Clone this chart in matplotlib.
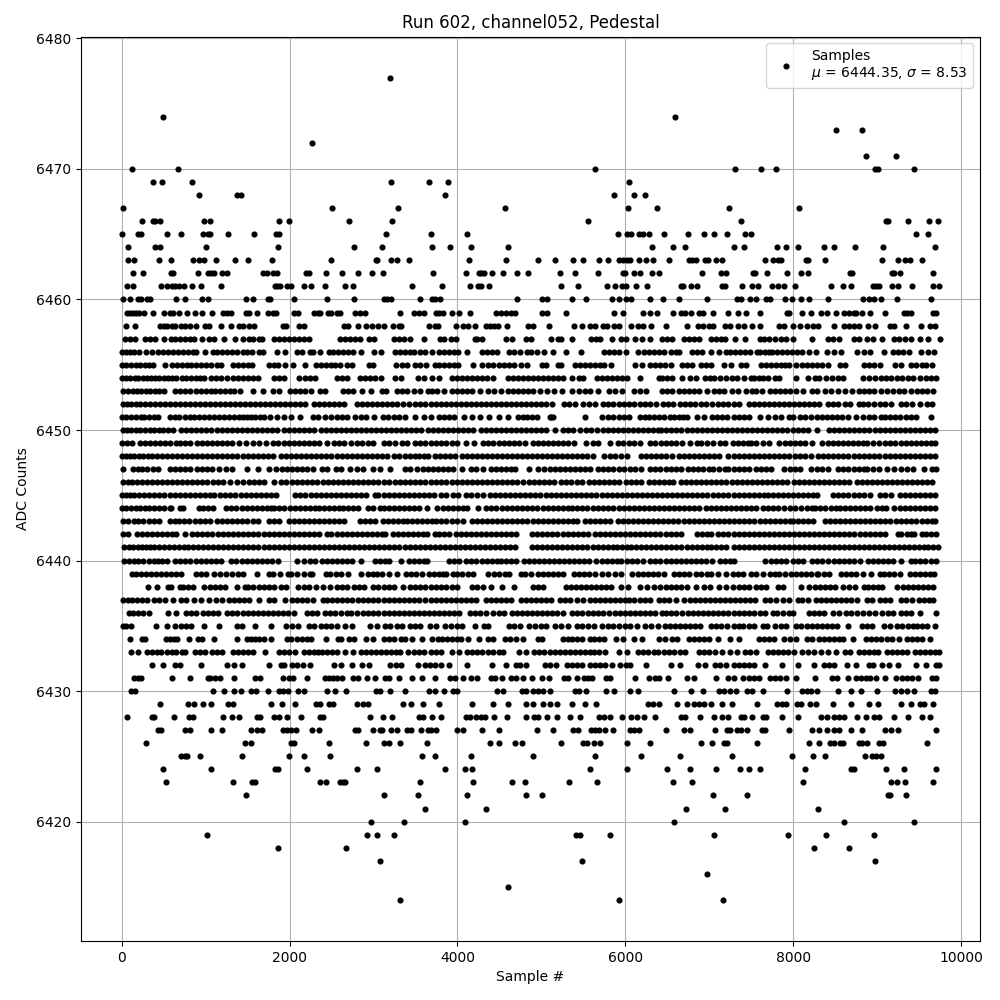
#!/usr/bin/python
# Pedestal samples for one channel, ADC value against sample number.

import matplotlib
matplotlib.use("Agg")
import matplotlib.pyplot as plt

s6477 = [3200]
s6474 = [487, 6595]
s6473 = [8512, 8821]
s6472 = [2270]
s6471 = [8869, 9226]
s6470 = [119, 677, 5643, 7309, 7619, 7797, 8972, 9012, 9440]
s6469 = [368, 475, 843, 3208, 3660, 3885, 6048]
s6468 = [927, 1378, 1420, 3850, 5869, 6107, 6238]
s6467 = [12, 2507, 3290, 4571, 6036, 6381, 7238, 8071]
s6466 = [238, 368, 392, 451, 986, 1057, 1877, 1996, 2709, 3219, 5560, 7381, 9107, 9131, 9369, 9619, 9726]
s6465 = [0, 190, 230, 546, 701, 974, 1033, 1057, 1271, 1580, 1833, 1873, 3148, 3683, 4110, 5917, 6024, 6071, 6167,
         6214, 6286, 6464, 6750, 6940, 7059, 7214, 7428, 7500, 9464, 9607]
s6464 = [71, 392, 451, 1010, 1865, 2768, 3100, 3695, 3908, 4158, 4609, 6321, 6571, 6714, 7297, 7416, 7809, 7917,
         8059, 8369, 8488, 8738, 9071, 9690]
s6463 = [71, 143, 440, 582, 855, 927, 982, 1129, 1354, 1509, 1794, 2495, 3030, 3045, 3208, 3279, 3421, 4134, 4574,
         4964, 5167, 5381, 5500, 5690, 5798, 5929, 5976, 6024, 6060, 6167, 6250, 6333, 6524, 6762, 6798, 6845, 6952,
         6988, 7083, 7155, 7667, 7762, 7821, 7857, 8155, 8179, 8381, 9059, 9250, 9333, 9393, 9536]
s6462 = [131, 249, 582, 606, 915, 1033, 1069, 1105, 1200, 1259, 1687, 1734, 1806, 1845, 2198, 2233, 2435, 2625, 2816,
         2982, 3113, 3706, 4099, 4253, 4277, 4312, 4407, 4538, 4716, 4847, 5226, 5405, 5679, 5976, 6000, 6107, 6179,
         6321, 6405, 6917, 7143, 7202, 7524, 7547, 7690, 7929, 8095, 8179, 8678, 8702, 9178, 9202, 9274, 9666]
s6461 = [59, 131, 463, 546, 594, 641, 689, 748, 832, 950, 1188, 1830, 1853, 1885, 1972, 2012, 2174, 2253, 2424, 2661,
         2756, 3457, 3813, 4146, 4241, 4277, 4372, 5238, 5440, 5786, 5881, 5964, 6008, 6131, 6262, 6667, 6690, 6786,
         6857, 7155, 7190, 7393, 7512, 7583, 7750, 7821, 7893, 8024, 8452, 8595, 8690, 8952, 8988, 9024, 9178, 9250,
         9417, 9666, 9740]
s6460 = [12, 95, 190, 226, 297, 333, 653, 760, 962, 1033, 1485, 1568, 1746, 1770, 2055, 2447, 2768, 3124, 3160, 3208,
         3552, 3695, 3730, 3790, 4716, 5012, 5071, 5369, 5536, 5845, 5929, 6012, 6071, 6298, 6452, 6643, 6976, 7333,
         7381, 7488, 7560, 7679, 7726, 7905, 7988, 8095, 8190, 8416, 8833, 8905, 8964, 9047, 9238, 9643]
s6459 = [59, 95, 131, 166, 202, 261, 368, 499, 570, 606, 689, 784, 879, 962, 1081, 1212, 1259, 1307, 1485, 1521, 1616,
         1746, 1806, 1841, 2055, 2103, 2293, 2340, 2364, 2459, 2495, 2566, 2602, 2780, 2839, 2899, 3315, 3481, 3540,
         3600, 3742, 3778, 3825, 3932, 4015, 4146, 4455, 4514, 4574, 4633, 4681, 5012, 5071, 5298, 5869, 5976, 6214,
         6298, 6381, 6571, 6667, 6714, 6786, 6881, 6929, 7048, 7226, 7345, 7440, 7607, 7929, 7952, 8107, 8214, 8333,
         8405, 8512, 8607, 8667, 8726, 8750, 8821, 8917, 9095, 9321, 9357, 9405, 9666, 9702]
s6458 = [48, 154, 451, 499, 546, 594, 641, 701, 760, 820, 891, 998, 1045, 1188, 1307, 1402, 1449, 1521, 1580, 1925,
         1960, 2115, 2174, 2649, 2697, 2816, 2911, 2982, 3053, 3124, 3231, 3303, 3326, 3659, 3730, 3766, 3980, 4063,
         4122, 4206, 4336, 4384, 4431, 4479, 4597, 4847, 4905, 5095, 5393, 5488, 5583, 5643, 5738, 5786, 5869, 5929,
         6071, 6155, 6214, 6310, 6488, 6738, 6869, 6929, 7000, 7048, 7190, 7250, 7345, 7416, 7512, 7607, 7833, 7893,
         8000, 8083, 8167, 8238, 8298, 8488, 8607, 8667, 8726, 8786, 8893, 8976, 9155, 9202, 9345, 9524, 9631, 9690]
s6457 = [36, 95, 155, 274, 333, 393, 500, 584, 640, 700, 760, 820, 858, 953, 1036, 1095, 1215, 1346, 1441, 1513, 1570,
         1640, 1671, 1810, 1870, 1930, 1990, 2050, 2110, 2170, 2227, 2604, 2660, 2720, 2780, 2842, 2942, 3006, 3240,
         3300, 3360, 3440, 3606, 3790, 3845, 3925, 3980, 4215, 4230, 4290, 4580, 4655, 4815, 4875, 5120, 5200, 5240,
         5370, 5590, 5650, 5705, 5840, 5950, 6010, 6120, 6200, 6300, 6440, 6500, 6560, 6700, 6760, 6820, 6880, 7020,
         7080, 7140, 7190, 7310, 7430, 7600, 7650, 7710, 7790, 7850, 7920, 8000, 8230, 8410, 8470, 8550, 8720, 8790,
         8880, 8950, 9060, 9200, 9260, 9330, 9400, 9510, 9610, 9750]
s6456 = [0, 50, 100, 150, 210, 285, 357, 430, 490, 550, 610, 670, 730, 790, 850, 885, 989, 1085, 1140, 1200, 1260,
         1320, 1380, 1440, 1493, 1552, 1632, 1683, 1850, 1950, 2088, 2150, 2247, 2279, 2366, 2465, 2520, 2580, 2640,
         2700, 2760, 2850, 3006, 3086, 3257, 3320, 3380, 3440, 3483, 3560, 3620, 3694, 3781, 3840, 3900, 3960, 4008,
         4119, 4298, 4358, 4417, 4477, 4616, 4680, 4750, 4835, 4875, 4950, 5034, 5141, 5296, 5475, 5750, 5810, 5870,
         5928, 6012, 6147, 6227, 6285, 6345, 6405, 6465, 6540, 6600, 6636, 6795, 6850, 6915, 7026, 7113, 7200, 7252,
         7310, 7370, 7430, 7490, 7570, 7610, 7660, 7710, 7750, 7810, 7870, 7930, 7990, 8050, 8110, 8187, 8278, 8405,
         8485, 8568, 8763, 8850, 8922, 9081, 9189, 9250, 9310, 9380, 9519, 9610, 9678]
s6455 = [0, 55, 110, 165, 220, 280, 330, 375, 520, 600, 655, 715, 775, 830, 890, 950, 1010, 1070, 1130, 1180, 1330,
         1385, 1440, 1500, 1550, 1750, 1810, 1860, 1950, 2040, 2180, 2310, 2370, 2430, 2490, 2540, 2600, 2690, 2750,
         2950, 3000, 3270, 3340, 3400, 3490, 3560, 3630, 3730, 3780, 3840, 3900, 3960, 4010, 4185, 4290, 4370, 4430,
         4490, 4550, 4620, 4670, 4760, 4830, 5010, 5060, 5200, 5240, 5400, 5460, 5520, 5580, 5640, 5700, 5750, 5830,
         6120, 6200, 6290, 6350, 6410, 6470, 6540, 6680, 6740, 6800, 6900, 6960, 7020, 7180, 7260, 7380, 7440, 7620,
         7680, 7740, 7800, 7860, 7900, 7950, 8030, 8110, 8170, 8230, 8290, 8350, 8420, 8560, 8620, 8840, 8900, 8960,
         9030, 9210, 9290, 9410, 9470, 9530, 9580, 9650]
s6454 = [0, 50, 100, 160, 200, 250, 300, 350, 400, 450, 500, 550, 600, 650, 720, 770, 830, 880, 930, 980, 1060, 1120,
         1180, 1260, 1330, 1390, 1450, 1510, 1570, 1630, 1810, 1870, 1930, 2110, 2180, 2240, 2300, 2560, 2620, 2680,
         2840, 2900, 2960, 3020, 3090, 3260, 3330, 3530, 3600, 3700, 3780, 3930, 3990, 4050, 4110, 4170, 4230, 4290,
         4350, 4420, 4600, 4660, 4720, 4780, 4840, 4900, 4960, 5020, 5080, 5140, 5200, 5260, 5370, 5450, 5500, 5660,
         5720, 5780, 5840, 5900, 5960, 6020, 6180, 6400, 6440, 6500, 6560, 6680, 6770, 6840, 6950, 7010, 7060, 7130,
         7200, 7270, 7330, 7420, 7500, 7540, 7590, 7640, 7700, 7790, 7830, 8040, 8180, 8260, 8310, 8390, 8460, 8530,
         8590, 8830, 8900, 8980, 9050, 9110, 9170, 9240, 9300, 9370, 9430, 9510, 9580, 9640, 9700]
s6453 = [15, 75, 130, 180, 230, 290, 340, 400, 450, 500, 640, 700, 760, 820, 880, 940, 1000, 1060, 1110, 1170, 1230,
         1290, 1340, 1410, 1570, 1680, 1800, 1880, 2000, 2060, 2120, 2180, 2260, 2360, 2420, 2640, 2700, 2760, 2860,
         2970, 3100, 3150, 3280, 3340, 3400, 3480, 3560, 3650, 3700, 3760, 3840, 3930, 4000, 4060, 4120, 4180, 4270,
         4360, 4440, 4520, 4600, 4660, 4720, 4780, 4840, 4900, 4990, 5070, 5150, 5250, 5360, 5450, 5520, 5580, 5670,
         5810, 5880, 5960, 6110, 6180, 6250, 6440, 6500, 6560, 6640, 6700, 6760, 6820, 6880, 6970, 7060, 7120, 7180,
         7270, 7340, 7440, 7510, 7560, 7630, 7720, 7780, 7840, 7900, 7960, 8030, 8120, 8230, 8290, 8380, 8450, 8530,
         8620, 8700, 8780, 8850, 8900, 8960, 9050, 9120, 9190, 9260, 9320, 9400, 9480, 9540, 9600, 9670]
s6452 = [10, 60, 110, 170, 220, 280, 340, 400, 460, 520, 570, 630, 690, 750, 810, 870, 930, 990, 1050, 1110, 1170,
         1230, 1290, 1350, 1410, 1470, 1530, 1590, 1650, 1710, 1770, 1830, 1890, 1950, 2010, 2070, 2130, 2190, 2290,
         2350, 2410, 2470, 2530, 2590, 2650, 2800, 2860, 2920, 2980, 3040, 3100, 3160, 3220, 3280, 3350, 3420, 3490,
         3560, 3620, 3680, 3740, 3800, 3860, 3920, 3980, 4040, 4100, 4160, 4220, 4280, 4340, 4400, 4460, 4520, 4580,
         4640, 4700, 4760, 4820, 4880, 4940, 5000, 5060, 5130, 5270, 5330, 5400, 5500, 5570, 5640, 5730, 5790, 5850,
         5920, 5980, 6040, 6100, 6180, 6240, 6300, 6370, 6450, 6510, 6570, 6650, 6710, 6770, 6830, 6900, 6960, 7030,
         7100, 7160, 7220, 7290, 7360, 7470, 7530, 7590, 7650, 7710, 7770, 7830, 7890, 7950, 8010, 8070, 8130, 8190,
         8250, 8310, 8410, 8470, 8530, 8620, 8680, 8780, 8830, 8890, 8960, 9040, 9100, 9170, 9280, 9350, 9420, 9510,
         9590, 9660]
s6451 = [5, 55, 115, 170, 225, 270, 320, 380, 430, 570, 630, 680, 750, 810, 860, 920, 980, 1040, 1100, 1160, 1220,
         1280, 1340, 1400, 1440, 1490, 1540, 1590, 1650, 1700, 1770, 1850, 1940, 2020, 2130, 2280, 2340, 2420, 2490,
         2560, 2620, 2680, 2780, 2850, 2910, 3010, 3110, 3170, 3240, 3310, 3380, 3500, 3600, 3680, 3780, 3840, 3900,
         3960, 4080, 4180, 4270, 4380, 4490, 4600, 4720, 4780, 4830, 4890, 4950, 5100, 5120, 5140, 5520, 5720, 5790,
         5860, 5920, 5980, 6050, 6170, 6230, 6280, 6340, 6400, 6460, 6530, 6580, 6640, 6690, 6740, 6850, 6940, 7030,
         7090, 7150, 7210, 7300, 7360, 7420, 7480, 7600, 7700, 7790, 7850, 7950, 8000, 8080, 8140, 8210, 8280, 8340,
         8400, 8460, 8520, 8580, 8650, 8750, 8830, 8900, 8960, 9050, 9100, 9150, 9210, 9270, 9350, 9410, 9470, 9640]
s6450 = [10, 60, 110, 165, 220, 280, 335, 390, 440, 490, 550, 610, 710, 770, 830, 890, 950, 1010, 1070, 1130, 1190,
         1250, 1310, 1370, 1430, 1490, 1550, 1610, 1670, 1730, 1790, 1850, 1930, 1990, 2050, 2110, 2170, 2230, 2290,
         2370, 2430, 2490, 2550, 2610, 2670, 2730, 2790, 2850, 2910, 2970, 3030, 3090, 3150, 3210, 3270, 3330, 3390,
         3450, 3510, 3570, 3650, 3710, 3770, 3830, 3890, 3950, 4010, 4070, 4130, 4190, 4280, 4340, 4400, 4460, 4520,
         4580, 4640, 4700, 4760, 4820, 4880, 4940, 5000, 5060, 5160, 5260, 5320, 5380, 5460, 5530, 5590, 5660, 5730,
         5790, 5850, 5910, 5970, 6030, 6090, 6150, 6210, 6270, 6330, 6390, 6430, 6490, 6550, 6610, 6670, 6730, 6790,
         6850, 6910, 6970, 7030, 7090, 7150, 7210, 7270, 7330, 7390, 7450, 7510, 7570, 7630, 7690, 7750, 7810, 7870,
         7930, 8000, 8060, 8120, 8180, 8280, 8430, 8490, 8550, 8610, 8670, 8730, 8790, 8850, 8910, 8970, 9030, 9090,
         9150, 9210, 9270, 9330, 9390, 9450, 9510, 9570, 9630, 9690]
s6449 = [0, 60, 120, 220, 280, 340, 400, 460, 520, 580, 650, 700, 760, 820, 900, 960, 1020, 1080, 1140, 1200, 1260,
         1320, 1400, 1480, 1560, 1640, 1720, 1800, 1860, 1930, 1990, 2050, 2110, 2170, 2230, 2290, 2350, 2450, 2530,
         2590, 2650, 2730, 2800, 2860, 2930, 2990, 3120, 3190, 3260, 3340, 3400, 3490, 3560, 3620, 3680, 3750, 3810,
         3870, 3930, 4000, 4100, 4200, 4300, 4370, 4430, 4490, 4550, 4610, 4670, 4730, 4810, 4900, 4960, 5020, 5080,
         5140, 5200, 5260, 5320, 5390, 5530, 5620, 5680, 5820, 5910, 5970, 6040, 6110, 6170, 6290, 6350, 6430, 6490,
         6550, 6610, 6680, 6770, 6850, 6900, 6980, 7050, 7130, 7190, 7280, 7340, 7400, 7460, 7500, 7560, 7640, 7710,
         7830, 7900, 7960, 8020, 8080, 8140, 8220, 8350, 8410, 8480, 8530, 8590, 8650, 8710, 8770, 8830, 8880, 8950,
         9020, 9100, 9160, 9220, 9290, 9350, 9400, 9460, 9520, 9580, 9640, 9690]
s6448 = [0, 50, 100, 150, 205, 260, 310, 360, 420, 480, 540, 600, 660, 720, 780, 840, 900, 960, 1020, 1080, 1140, 1200,
         1260, 1320, 1380, 1440, 1500, 1560, 1620, 1680, 1740, 1800, 1900, 1960, 2020, 2080, 2140, 2200, 2260, 2320,
         2380, 2440, 2500, 2560, 2620, 2680, 2740, 2800, 2860, 2920, 2980, 3040, 3100, 3160, 3250, 3310, 3370, 3430,
         3490, 3540, 3600, 3650, 3730, 3790, 3850, 3910, 3970, 4060, 4110, 4170, 4230, 4290, 4350, 4410, 4470, 4530,
         4590, 4650, 4710, 4770, 4830, 4890, 4950, 5010, 5070, 5130, 5190, 5250, 5310, 5370, 5430, 5490, 5550, 5620,
         5750, 5820, 5880, 5950, 6020, 6190, 6250, 6310, 6370, 6430, 6490, 6560, 6640, 6700, 6760, 6820, 6880, 6940,
         7000, 7060, 7120, 7230, 7290, 7350, 7410, 7470, 7530, 7590, 7650, 7710, 7770, 7830, 7890, 7950, 8020, 8080,
         8140, 8210, 8300, 8360, 8420, 8480, 8540, 8600, 8660, 8720, 8780, 8840, 8900, 8960, 9020, 9090, 9150, 9210,
         9270, 9330, 9390, 9450, 9510, 9570, 9630, 9690]
s6447 = [20, 130, 190, 240, 300, 370, 430, 580, 640, 700, 760, 820, 900, 960, 1020, 1080, 1160, 1240, 1320, 1490,
         1620, 1760, 1840, 1910, 1970, 2030, 2090, 2150, 2210, 2280, 2390, 2450, 2550, 2610, 2720, 2800, 2880, 3000,
         3080, 3200, 3380, 3440, 3520, 3590, 3650, 3710, 3770, 3830, 3890, 3950, 4060, 4160, 4220, 4300, 4400, 4460,
         4520, 4580, 4640, 4690, 4850, 4960, 5030, 5100, 5160, 5220, 5280, 5340, 5400, 5460, 5520, 5580, 5670, 5740,
         5800, 5860, 5920, 5990, 6060, 6120, 6190, 6300, 6360, 6420, 6480, 6540, 6600, 6670, 6750, 6810, 6870, 6930,
         7000, 7050, 7120, 7190, 7230, 7290, 7350, 7410, 7470, 7560, 7620, 7680, 7740, 7890, 7960, 8020, 8080, 8210,
         8280, 8340, 8410, 8540, 8600, 8660, 8720, 8780, 8840, 8880, 8950, 9020, 9120, 9200, 9290, 9360, 9430, 9560,
         9650, 9700]
s6446 = [15, 70, 125, 185, 240, 300, 360, 425, 480, 540, 600, 660, 720, 780, 840, 900, 960, 1020, 1090, 1150, 1210,
         1290, 1370, 1450, 1520, 1580, 1640, 1700, 1820, 1900, 1960, 2030, 2090, 2150, 2210, 2270, 2330, 2400, 2460,
         2520, 2580, 2640, 2700, 2760, 2820, 2880, 2940, 3000, 3060, 3120, 3190, 3260, 3320, 3380, 3440, 3500, 3560,
         3610, 3690, 3750, 3810, 3870, 3930, 3990, 4050, 4110, 4170, 4230, 4290, 4350, 4410, 4470, 4530, 4590, 4650,
         4710, 4780, 4850, 4910, 4970, 5030, 5090, 5150, 5230, 5290, 5350, 5420, 5490, 5570, 5630, 5690, 5750, 5810,
         5870, 5930, 6010, 6070, 6130, 6190, 6280, 6340, 6400, 6460, 6520, 6570, 6660, 6720, 6780, 6840, 6900, 6960,
         7020, 7080, 7140, 7200, 7270, 7330, 7390, 7450, 7510, 7570, 7630, 7690, 7750, 7810, 7870, 7930, 8010, 8070,
         8130, 8190, 8250, 8310, 8370, 8430, 8490, 8550, 8610, 8670, 8760, 8820, 8880, 8940, 9000, 9060, 9120, 9180,
         9240, 9300, 9360, 9420, 9480, 9540, 9600, 9660]
s6445 = [0, 50, 100, 150, 210, 270, 330, 390, 450, 510, 570, 630, 690, 750, 810, 870, 930, 990, 1050, 1100, 1170, 1230,
         1290, 1350, 1420, 1480, 1540, 1600, 1660, 1720, 1780, 1840, 2070, 2130, 2190, 2250, 2310, 2370, 2430, 2490,
         2550, 2610, 2670, 2730, 2790, 2850, 2910, 3020, 3060, 3120, 3180, 3240, 3300, 3360, 3420, 3480, 3540, 3600,
         3660, 3720, 3800, 3860, 3950, 4010, 4100, 4160, 4230, 4310, 4390, 4450, 4510, 4570, 4630, 4690, 4750, 4810,
         4870, 4930, 4990, 5050, 5110, 5170, 5230, 5290, 5350, 5410, 5470, 5530, 5590, 5650, 5720, 5780, 5840, 5900,
         5960, 6020, 6080, 6140, 6200, 6260, 6320, 6380, 6440, 6500, 6560, 6620, 6680, 6740, 6800, 6860, 6920, 6980,
         7040, 7100, 7160, 7220, 7290, 7350, 7410, 7470, 7530, 7590, 7650, 7700, 7760, 7820, 7880, 7940, 8000, 8060,
         8120, 8180, 8240, 8290, 8480, 8540, 8600, 8660, 8720, 8780, 8850, 8920, 9040, 9100, 9170, 9270, 9330, 9390,
         9450, 9510, 9570, 9630, 9690]
s6444 = [0, 55, 110, 165, 220, 275, 330, 390, 450, 510, 570, 590, 700, 730, 920, 970, 1030, 1090, 1240, 1300, 1360,
         1430, 1490, 1550, 1610, 1670, 1730, 1780, 1820, 1880, 1940, 2000, 2060, 2120, 2180, 2240, 2300, 2350, 2410,
         2470, 2530, 2590, 2640, 2700, 2760, 2820, 2930, 3000, 3080, 3120, 3180, 3240, 3300, 3360, 3420, 3480, 3540,
         3640, 3760, 3830, 3890, 3950, 4010, 4070, 4120, 4240, 4340, 4400, 4460, 4530, 4590, 4650, 4710, 4770, 4830,
         4890, 4950, 5020, 5080, 5140, 5200, 5260, 5320, 5370, 5430, 5480, 5550, 5620, 5680, 5740, 5800, 5860, 5920,
         5980, 6040, 6100, 6160, 6220, 6280, 6340, 6400, 6460, 6520, 6580, 6640, 6700, 6760, 6820, 6880, 6960, 7020,
         7080, 7140, 7200, 7260, 7320, 7380, 7440, 7500, 7560, 7640, 7700, 7760, 7820, 7890, 7960, 8020, 8100, 8160,
         8220, 8260, 8320, 8380, 8450, 8510, 8560, 8620, 8680, 8740, 8800, 8860, 8920, 9000, 9060, 9110, 9200, 9270,
         9330, 9390, 9450, 9510, 9570, 9630, 9690]
s6443 = [10, 70, 150, 200, 260, 320, 380, 440, 570, 630, 680, 740, 800, 870, 930, 990, 1050, 1130, 1190, 1250, 1310,
         1370, 1430, 1490, 1570, 1630, 1760, 1820, 1880, 1990, 2050, 2110, 2170, 2230, 2290, 2350, 2410, 2470, 2530,
         2590, 2650, 2840, 2900, 2960, 3020, 3110, 3170, 3230, 3290, 3350, 3400, 3460, 3520, 3580, 3640, 3700, 3750,
         3810, 3870, 3930, 3990, 4070, 4170, 4230, 4290, 4350, 4410, 4470, 4530, 4590, 4650, 4710, 4770, 4830, 4900,
         4960, 5020, 5080, 5140, 5200, 5260, 5320, 5380, 5430, 5520, 5580, 5640, 5700, 5760, 5820, 5910, 5970, 6030,
         6090, 6150, 6210, 6270, 6330, 6390, 6450, 6510, 6570, 6630, 6700, 6760, 6820, 6880, 6940, 7000, 7060, 7120,
         7180, 7240, 7300, 7360, 7420, 7480, 7540, 7600, 7660, 7720, 7780, 7840, 7900, 7960, 8000, 8060, 8120, 8180,
         8240, 8380, 8440, 8500, 8560, 8620, 8680, 8740, 8800, 8860, 8920, 8980, 9040, 9100, 9160, 9230, 9290, 9350,
         9410, 9470, 9530, 9590, 9650, 9690]
s6442 = [15, 70, 180, 240, 300, 360, 420, 480, 540, 600, 650, 760, 840, 900, 960, 1020, 1080, 1150, 1210, 1270, 1330,
         1390, 1450, 1510, 1570, 1630, 1690, 1750, 1810, 1870, 1930, 1990, 2050, 2110, 2170, 2230, 2290, 2350, 2450,
         2500, 2560, 2620, 2680, 2740, 2800, 2860, 2920, 2980, 3040, 3100, 3140, 3230, 3290, 3350, 3410, 3470, 3530,
         3590, 3640, 3730, 3780, 3840, 3900, 3980, 4040, 4100, 4160, 4220, 4280, 4340, 4400, 4460, 4520, 4580, 4640,
         4700, 4890, 4950, 5010, 5070, 5130, 5190, 5260, 5320, 5380, 5440, 5500, 5560, 5640, 5700, 5760, 5820, 5880,
         5940, 6000, 6060, 6120, 6180, 6240, 6300, 6360, 6420, 6480, 6540, 6600, 6660, 6860, 6920, 6980, 7020, 7110,
         7170, 7220, 7290, 7350, 7410, 7470, 7530, 7590, 7650, 7710, 7770, 7830, 7890, 7950, 8010, 8070, 8130, 8190,
         8250, 8310, 8370, 8430, 8490, 8550, 8610, 8670, 8730, 8800, 8860, 8920, 8980, 9040, 9090, 9250, 9290, 9360,
         9400, 9440, 9530, 9580, 9640, 9700]
s6441 = [30, 85, 140, 190, 240, 290, 340, 390, 440, 500, 560, 620, 680, 740, 790, 850, 910, 970, 1030, 1090, 1150,
         1210, 1270, 1330, 1390, 1450, 1510, 1570, 1630, 1690, 1750, 1810, 1870, 1930, 1990, 2050, 2110, 2170, 2230,
         2290, 2350, 2410, 2470, 2530, 2590, 2650, 2710, 2770, 2830, 2890, 2950, 3010, 3070, 3130, 3190, 3250, 3310,
         3370, 3430, 3490, 3550, 3610, 3670, 3730, 3790, 3850, 3910, 3970, 4030, 4090, 4150, 4210, 4270, 4330, 4390,
         4450, 4510, 4570, 4630, 4690, 4890, 4950, 5010, 5070, 5130, 5190, 5250, 5310, 5370, 5430, 5490, 5550, 5610,
         5670, 5730, 5790, 5850, 5900, 5960, 6020, 6070, 6130, 6190, 6250, 6310, 6370, 6430, 6490, 6550, 6610, 6670,
         6730, 6790, 6850, 6910, 6970, 7020, 7080, 7140, 7200, 7290, 7350, 7410, 7470, 7530, 7590, 7650, 7710, 7770,
         7830, 7890, 7950, 8010, 8070, 8130, 8190, 8250, 8310, 8370, 8430, 8490, 8550, 8610, 8670, 8730, 8790, 8850,
         8900, 8960, 9020, 9080, 9140, 9200, 9260, 9320, 9380, 9440, 9500, 9560, 9610, 9670, 9730]
s6440 = [30, 85, 145, 200, 260, 320, 380, 430, 480, 540, 630, 690, 750, 810, 880, 940, 1000, 1060, 1120, 1180, 1300,
         1360, 1430, 1490, 1550, 1610, 1670, 1730, 1790, 1860, 2090, 2170, 2240, 2300, 2390, 2450, 2510, 2570, 2630,
         2690, 2750, 2850, 3020, 3080, 3140, 3190, 3330, 3420, 3480, 3540, 3600, 3640, 3900, 3960, 4020, 4100, 4160,
         4220, 4290, 4350, 4410, 4470, 4520, 4580, 4640, 4700, 4790, 4850, 4910, 4970, 5030, 5090, 5150, 5210, 5270,
         5330, 5390, 5450, 5510, 5570, 5650, 5720, 5780, 5840, 5900, 5950, 6020, 6080, 6140, 6210, 6290, 6360, 6420,
         6480, 6540, 6600, 6660, 6720, 6780, 6840, 6900, 6960, 7030, 7130, 7190, 7250, 7300, 7660, 7740, 7800, 7860,
         7920, 8000, 8060, 8120, 8220, 8280, 8340, 8420, 8490, 8550, 8610, 8670, 8720, 8800, 8890, 8950, 9010, 9070,
         9130, 9190, 9290, 9400, 9450, 9510, 9570, 9640, 9700]
s6439 = [120, 170, 230, 290, 350, 410, 470, 530, 590, 650, 710, 890, 950, 1010, 1100, 1170, 1240, 1320, 1390, 1450,
         1610, 1750, 1800, 1890, 1980, 2020, 2090, 2170, 2240, 2270, 2430, 2480, 2550, 2610, 2700, 2850, 2930, 3000,
         3040, 3100, 3180, 3280, 3390, 3450, 3510, 3580, 3660, 3720, 3780, 3830, 3870, 3950, 4000, 4060, 4130, 4190,
         4360, 4440, 4500, 4570, 4620, 4760, 4810, 4880, 4960, 5020, 5080, 5140, 5200, 5260, 5390, 5450, 5510, 5570,
         5640, 5720, 5790, 5880, 5950, 6080, 6150, 6210, 6270, 6330, 6390, 6460, 6580, 6640, 6700, 6760, 6840, 6900,
         6980, 7020, 7110, 7200, 7280, 7340, 7400, 7500, 7560, 7640, 7730, 7780, 7830, 7900, 7980, 8030, 8090, 8150,
         8210, 8280, 8300, 8370, 8430, 8570, 8630, 8690, 8750, 8830, 8930, 9030, 9080, 9140, 9200, 9270, 9390, 9450,
         9510, 9570, 9630, 9680]
s6438 = [310, 420, 550, 590, 690, 730, 790, 850, 980, 1050, 1110, 1170, 1230, 1380, 1470, 1510, 1570, 1640, 1700, 1760,
         1820, 1900, 1960, 2100, 2170, 2230, 2320, 2400, 2480, 2560, 2620, 2680, 2770, 2830, 2890, 3000, 3060, 3120,
         3190, 3250, 3350, 3440, 3490, 3560, 3620, 3680, 3750, 3800, 3860, 3930, 3990, 4170, 4230, 4310, 4400, 4530,
         4680, 4900, 4960, 5020, 5290, 5350, 5410, 5470, 5530, 5590, 5650, 5710, 5770, 5830, 5950, 6030, 6180, 6260,
         6340, 6420, 6480, 6540, 6600, 6660, 6730, 6840, 6940, 7010, 7120, 7200, 7280, 7360, 7420, 7480, 7560, 7620,
         7680, 7820, 7880, 8100, 8190, 8260, 8320, 8380, 8440, 8500, 8590, 8670, 8740, 8840, 8890, 8950, 9010, 9060,
         9240, 9310, 9370, 9430, 9490, 9550, 9610, 9670]
s6437 = [15, 70, 125, 180, 240, 300, 380, 450, 520, 610, 710, 770, 860, 950, 1040, 1120, 1190, 1280, 1340, 1400, 1460,
         1520, 1640, 1760, 1820, 1950, 2030, 2090, 2150, 2210, 2280, 2400, 2450, 2510, 2570, 2630, 2690, 2750, 2810,
         2880, 2940, 3000, 3060, 3120, 3180, 3240, 3300, 3360, 3420, 3480, 3540, 3620, 3680, 3740, 3800, 3860, 3920,
         3980, 4040, 4100, 4160, 4220, 4340, 4400, 4460, 4520, 4580, 4640, 4760, 4820, 4880, 4940, 5000, 5060, 5120,
         5220, 5280, 5340, 5420, 5500, 5580, 5640, 5700, 5760, 5820, 5880, 5940, 6000, 6050, 6110, 6170, 6230, 6290,
         6400, 6460, 6520, 6610, 6700, 6770, 6830, 6890, 6950, 7010, 7070, 7130, 7190, 7250, 7310, 7370, 7430, 7490,
         7550, 7660, 7720, 7800, 7880, 7950, 8060, 8110, 8180, 8270, 8330, 8390, 8450, 8510, 8570, 8630, 8690, 8760,
         8880, 8940, 9040, 9100, 9160, 9290, 9350, 9420, 9500, 9560, 9620, 9670]
s6436 = [90, 140, 200, 260, 330, 550, 650, 770, 830, 890, 970, 1030, 1090, 1150, 1260, 1320, 1380, 1440, 1500, 1560,
         1620, 1680, 1740, 1800, 1860, 1920, 1980, 2050, 2210, 2270, 2330, 2420, 2480, 2540, 2610, 2680, 2730, 2800,
         2870, 2940, 3000, 3060, 3120, 3180, 3240, 3300, 3360, 3420, 3480, 3540, 3600, 3660, 3720, 3780, 3840, 3900,
         3960, 4020, 4150, 4210, 4270, 4340, 4430, 4490, 4560, 4650, 4710, 4770, 4830, 4890, 4950, 5010, 5070, 5130,
         5190, 5260, 5360, 5420, 5490, 5560, 5620, 5680, 5740, 5810, 5880, 5940, 6000, 6060, 6120, 6180, 6240, 6300,
         6360, 6440, 6490, 6550, 6610, 6680, 6750, 6810, 6870, 6930, 6990, 7050, 7110, 7170, 7230, 7290, 7350, 7410,
         7470, 7530, 7600, 7670, 7760, 7810, 7880, 7950, 8000, 8190, 8250, 8310, 8370, 8470, 8550, 8630, 8690, 8760,
         8830, 8900, 8980, 9060, 9130, 9190, 9290, 9350, 9410, 9510, 9700]
s6435 = [10, 50, 110, 410, 540, 640, 710, 770, 830, 980, 1160, 1370, 1430, 1590, 1780, 1960, 2030, 2100, 2230, 2290,
         2380, 2440, 2500, 2560, 2660, 2740, 2960, 3040, 3140, 3200, 3280, 3340, 3440, 3500, 3560, 3670, 3740, 3850,
         3920, 3990, 4050, 4210, 4320, 4370, 4610, 4680, 4750, 4850, 4920, 5000, 5060, 5160, 5240, 5320, 5420, 5490,
         5560, 5630, 5720, 5790, 5850, 5920, 6000, 6060, 6140, 6240, 6310, 6390, 6470, 6530, 6590, 6650, 6710, 6770,
         6830, 6890, 7020, 7080, 7140, 7210, 7290, 7350, 7400, 7470, 7530, 7640, 7690, 7780, 7850, 7920, 8040, 8100,
         8160, 8220, 8280, 8340, 8400, 8460, 8520, 8650, 8820, 8880, 8940, 9080, 9150, 9240, 9300, 9370, 9430, 9480,
         9540, 9600, 9690]
s6434 = [95, 238, 273, 523, 570, 618, 665, 808, 915, 962, 1105, 1378, 1497, 1544, 1592, 1639, 1699, 1782, 1972, 2020,
         2091, 2150, 2210, 2257, 2435, 2578, 2614, 2709, 2768, 2911, 2994, 3124, 3184, 3243, 3326, 3374, 3457, 3576,
         3695, 3766, 3813, 3873, 3932, 3992, 4039, 4122, 4253, 4360, 4419, 4562, 4621, 4704, 4776, 4964, 5012, 5262,
         5321, 5369, 5429, 5488, 5583, 5631, 5690, 5750, 5893, 5976, 6107, 6202, 6405, 6476, 6560, 6619, 6762, 6821,
         6881, 6940, 7000, 7107, 7250, 7357, 7595, 7655, 7714, 7774, 7893, 7964, 8036, 8167, 8226, 8309, 8369, 8428,
         8488, 8547, 8595, 8714, 8869, 8929, 8988, 9048, 9119, 9178, 9262, 9357, 9417, 9476, 9536, 9631]
s6433 = [107, 190, 297, 356, 416, 463, 535, 594, 653, 713, 760, 879, 939, 998, 1081, 1141, 1200, 1331, 1390, 1449, 1509,
         1568, 1711, 1877, 1936, 1996, 2067, 2174, 2233, 2293, 2340, 2388, 2447, 2507, 2566, 2661, 2756, 2851, 2911,
         2970, 3029, 3089, 3148, 3208, 3267, 3314, 3410, 3481, 3540, 3600, 3683, 3742, 3802, 3932, 4015, 4110, 4170,
         4229, 4289, 4360, 4419, 4491, 4538, 4736, 4815, 4917, 4976, 5036, 5107, 5167, 5226, 5286, 5345, 5405, 5464,
         5524, 5583, 5631, 5690, 5762, 5929, 6024, 6155, 6214, 6274, 6345, 6393, 6464, 6524, 6583, 6655, 6714, 6881,
         6940, 7000, 7071, 7155, 7250, 7333, 7428, 7488, 7560, 7702, 7762, 7821, 7881, 7940, 8012, 8107, 8179, 8250,
         8333, 8417, 8512, 8619, 8679, 8786, 8845, 8905, 8964, 9012, 9119, 9178, 9238, 9297, 9357, 9452, 9512, 9571,
         9631, 9690, 9740]
s6432 = [356, 487, 634, 693, 950, 1259, 1342, 1437, 1758, 1901, 1936, 2032, 2091, 2162, 2241, 2530, 2614, 2744, 2863,
         2946, 3196, 3267, 3326, 3528, 3612, 3671, 3730, 3802, 3897, 4110, 4407, 4574, 4693, 4752, 4823, 5048, 5107,
         5179, 5310, 5369, 5429, 5488, 5583, 5643, 5702, 5762, 5845, 5940, 6012, 6060, 6250, 6548, 6655, 6869, 6952,
         7071, 7131, 7202, 7297, 7357, 7417, 7476, 7536, 7667, 7869, 8059, 8250, 8369, 8428, 8488, 8643, 8750, 8905,
         8952, 9059, 9143, 9250, 9464, 9583, 9702, 9740]
s6431 = [143, 190, 226, 594, 820, 1033, 1057, 1117, 1176, 1342, 1592, 1651, 1925, 1996, 2044, 2210, 2424, 2471, 2519,
         2566, 2625, 2756, 2816, 2923, 3017, 3136, 3184, 3303, 3457, 3576, 3730, 3908, 3968, 4063, 4158, 4229, 4396,
         4443, 4526, 4633, 4704, 4776, 4893, 5012, 5095, 5274, 5321, 5429, 5512, 5560, 5607, 5774, 5821, 6119, 6286,
         6357, 6405, 6512, 6738, 6821, 7083, 7226, 7297, 7405, 7476, 7536, 7595, 7726, 7786, 7845, 7917, 8036, 8258,
         8464, 8524, 8655, 8750, 8810, 8869, 8917, 8988, 9095, 9226, 9297, 9357, 9417, 9488, 9655, 9702]
s6430 = [107, 154, 1093, 1224, 1342, 1426, 1544, 1604, 1746, 1877, 1925, 1984, 2103, 2174, 2447, 2542, 2673, 3029, 3077,
         3196, 3374, 3659, 3730, 3837, 3944, 3992, 4467, 4538, 4764, 4823, 4905, 4964, 5024, 5103, 5405, 5452, 5536,
         5774, 5869, 6060, 6155, 6583, 6786, 6929, 7119, 7179, 7250, 7321, 7452, 7512, 7643, 7929, 8107, 8167, 8214,
         8286, 8536, 8690, 8810, 9000, 9214, 9286, 9357, 9440, 9643, 9686]
s6429 = [451, 796, 867, 974, 1069, 1271, 1331, 1782, 1913, 2067, 2317, 2364, 2471, 2519, 2804, 2875, 2934, 3350, 3445,
         3588, 3778, 4170, 4419, 4609, 4823, 4905, 5024, 5103, 5190, 5369, 5524, 5655, 6274, 6333, 6405, 6619, 6738,
         6821, 6881, 6940, 7024, 7155, 7274, 7571, 7809, 7869, 7917, 8048, 8095, 8202, 8274, 8476, 8690, 8905, 9012,
         9286, 9405, 9512, 9560, 9666]
s6428 = [59, 357, 380, 618, 808, 844, 1212, 1319, 1402, 1616, 1651, 1818, 1877, 1972, 2139, 2364, 2400, 2958, 3113,
         3219, 3540, 3588, 3695, 3802, 4099, 4146, 4217, 4277, 4324, 4431, 4586, 4823, 4917, 4964, 5071, 5190, 5345,
         5464, 5690, 5750, 5821, 5964, 6071, 6143, 6226, 6357, 6667, 6714, 6893, 7059, 7155, 7226, 7381, 7416, 7512,
         7643, 7679, 7869, 8059, 8333, 8405, 8488, 8547, 8607, 8762, 8869, 8964, 9024, 9202, 9369, 9536, 9631]
s6427 = [428, 463, 760, 820, 1069, 1200, 1544, 1616, 1675, 1925, 1972, 2020, 2079, 2265, 2348, 2780, 2816, 2994, 3077,
         3101, 3208, 3279, 3398, 3445, 3564, 3647, 3683, 3742, 3992, 4063, 4289, 4491, 4953, 5143, 5381, 5440, 5595,
         5643, 5690, 5762, 5857, 6060, 6107, 6167, 6488, 6702, 6774, 7071, 7214, 7250, 7333, 7381, 7452, 7631, 7667,
         7952, 8226, 8309, 8405, 8488, 8547, 8690, 8821, 9095, 9167, 9250, 9702]
s6426 = [285, 1473, 1544, 2020, 2055, 2471, 2911, 3124, 3184, 3314, 3635, 4384, 4491, 4692, 4764, 5238, 5500, 5548,
         5631, 5702, 6024, 6298, 6905, 7036, 7179, 7214, 7571, 8190, 8309, 8440, 8488, 8559, 8595, 8786, 8821, 8881,
         9024, 9071, 9595]
s6425 = [701, 760, 784, 939, 1437, 1996, 2174, 2483, 3576, 3730, 4158, 4905, 5643, 6190, 6655, 7274, 7988, 8238, 8381,
         8857, 8940, 8988, 9047]
s6424 = [487, 1069, 1830, 1865, 2210, 2804, 3041, 3849, 4087, 4170, 5583, 6024, 6500, 6774, 7083, 7369, 7476, 7607,
         8143, 8690, 8726, 9107, 9321, 9702]
s6423 = [523, 1331, 1556, 1592, 2364, 2435, 2602, 2637, 2661, 3552, 4182, 4645, 4800, 5333, 5667, 6571, 6798, 8119,
         9167, 9238, 9333, 9666]
s6422 = [1485, 3124, 3528, 4110, 4823, 5012, 7048, 7452, 9131, 9155, 9345]
s6421 = [3612, 4336, 6726, 7190, 8298]
s6420 = [2970, 3362, 4087, 6583, 8607, 9440]
s6419 = [1022, 2922, 3041, 3243, 5417, 5464, 5821, 7059, 7940, 8393, 8964]
s6418 = [1865, 2673, 8250, 8667]
s6417 = [3077, 5488, 8976]
s6416 = [6976]
s6415 = [4609]
s6414 = [3314, 5929, 7167]

levels = [
    (6477, s6477), (6474, s6474), (6473, s6473), (6472, s6472), (6471, s6471), (6470, s6470), (6469, s6469),
    (6468, s6468), (6467, s6467), (6466, s6466), (6465, s6465), (6464, s6464), (6463, s6463), (6462, s6462),
    (6461, s6461), (6460, s6460), (6459, s6459), (6458, s6458), (6457, s6457), (6456, s6456), (6455, s6455),
    (6454, s6454), (6453, s6453), (6452, s6452), (6451, s6451), (6450, s6450), (6449, s6449), (6448, s6448),
    (6447, s6447), (6446, s6446), (6445, s6445), (6444, s6444), (6443, s6443), (6442, s6442), (6441, s6441),
    (6440, s6440), (6439, s6439), (6438, s6438), (6437, s6437), (6436, s6436), (6435, s6435), (6434, s6434),
    (6433, s6433), (6432, s6432), (6431, s6431), (6430, s6430), (6429, s6429), (6428, s6428), (6427, s6427),
    (6426, s6426), (6425, s6425), (6424, s6424), (6423, s6423), (6422, s6422), (6421, s6421), (6420, s6420),
    (6419, s6419), (6418, s6418), (6417, s6417), (6416, s6416), (6415, s6415), (6414, s6414),
]

sample_no = []
adc = []
for level, samples in levels:
    sample_no.extend(samples)
    adc.extend([level] * len(samples))

plt.figure(figsize=(10, 10), dpi=100)
plt.plot(sample_no, adc, "k.", markersize=6.8, label="Samples\n$\\mu$ = 6444.35, $\\sigma$ = 8.53")
plt.xlim(-487, 10227)
plt.ylim(6410.85, 6480.15)
plt.title("Run 602, channel052, Pedestal")
plt.xlabel("Sample #")
plt.ylabel("ADC Counts")
plt.ticklabel_format(useOffset=False)
plt.grid(True)
plt.legend(loc="upper right")
plt.subplots_adjust(left=0.0808, right=0.98, top=0.9635, bottom=0.059)
plt.savefig("out.png", dpi=100)
